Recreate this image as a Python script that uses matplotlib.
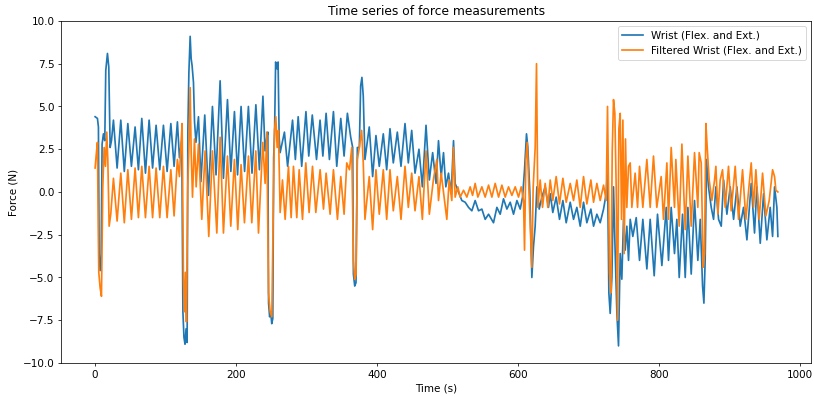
import matplotlib
matplotlib.use('Agg')
import matplotlib.pyplot as plt
import numpy as np

# wrist force (time in s, force in N)
wrist_t = [
    0.0, 3.3, 4.7, 5.7, 7.1, 8.5, 9.9, 11.8, 13.7, 15.1,
    17.5, 19.4, 21.3, 23.2, 26.0, 31.2, 36.4, 41.4, 46.4, 51.5,
    56.7, 61.4, 66.2, 71.4, 76.6, 81.5, 86.5, 91.7, 96.9, 102.1,
    107.4, 112.0, 116.7, 119.6, 122.9, 124.5, 126.0, 127.5, 129.0, 130.5,
    131.5, 133.0, 134.8, 136.2, 137.5, 139.5, 141.0, 143.0, 146.6, 150.0,
    155.5, 160.8, 166.4, 171.5, 177.3, 182.0, 187.7, 192.5, 197.6, 202.0,
    207.0, 212.0, 217.4, 222.5, 228.0, 233.0, 238.0, 241.0, 243.5, 245.0,
    246.0, 247.5, 249.0, 250.5, 252.0, 253.2, 254.5, 256.0, 258.0, 259.5,
    261.0, 262.4, 268.5, 273.0, 280.0, 284.0, 288.0, 293.0, 299.0, 303.0,
    308.0, 314.0, 319.0, 323.0, 327.6, 332.3, 338.0, 342.7, 348.4, 353.1,
    357.8, 362.5, 365.3, 366.3, 368.2, 370.0, 371.9, 374.7, 376.6, 378.4,
    380.3, 382.7, 388.8, 393.6, 398.3, 403.0, 408.7, 413.5, 418.2, 422.9,
    428.6, 433.8, 439.5, 444.2, 449.0, 453.7, 459.3, 464.1, 469.3, 474.0,
    478.7, 483.5, 487.0, 490.8, 494.1, 497.4, 501.2, 505.0, 508.3, 510.6,
    515.4, 520.1, 524.8, 529.6, 534.3, 539.0, 543.8, 548.5, 553.2, 558.0,
    565.0, 569.8, 574.5, 579.2, 584.0, 588.7, 593.4, 598.2, 602.9, 606.2,
    609.0, 611.8, 613.7, 616.5, 619.4, 621.7, 624.1, 626.5, 629.8, 633.6,
    638.3, 643.0, 645.4, 649.1, 653.9, 658.6, 663.4, 668.1, 673.8, 678.5,
    683.2, 688.0, 692.7, 697.4, 703.1, 706.9, 711.6, 716.3, 721.1, 724.8,
    726.7, 728.6, 730.5, 732.9, 735.2, 737.6, 740.0, 742.3, 744.7, 747.0,
    749.4, 751.8, 754.1, 756.5, 758.9, 762.6, 767.4, 772.1, 776.8, 782.5,
    787.2, 792.9, 797.6, 803.8, 810.0, 813.2, 817.0, 821.7, 825.0, 828.4,
    833.1, 836.9, 840.7, 845.4, 850.1, 854.8, 858.2, 861.5, 863.4, 865.2,
    867.1, 869.9, 873.8, 877.1, 880.4, 884.2, 888.0, 891.3, 896.0, 900.7,
    905.5, 910.2, 914.9, 919.6, 924.4, 930.5, 935.2, 938.5, 943.3, 948.0,
    952.7, 957.4, 960.8, 963.6, 966.9, 968.3,
]
wrist_f = [
    4.4, 4.3, 3.8, -3.6, -4.6, -3.8, 2.8, 3.4, 3.0, 7.1,
    8.1, 7.3, 2.6, 3.0, 4.2, 1.4, 4.2, 1.2, 4.0, 1.5,
    3.8, 1.3, 4.3, 1.1, 4.2, 1.4, 3.9, 1.3, 3.9, 1.2,
    4.0, 1.5, 4.1, 2.0, 3.0, -7.0, -8.5, -8.9, -8.0, -8.8,
    3.5, 7.0, 9.1, 7.8, 7.4, 6.4, 4.1, 2.9, 4.4, 0.6,
    4.5, -0.2, 5.0, 1.0, 6.5, 0.8, 5.4, 1.2, 4.7, 1.0,
    5.0, 1.2, 5.0, 1.1, 5.1, 1.3, 5.6, 2.4, 3.2, 3.5,
    -6.5, -7.3, -7.0, -7.7, -7.4, 2.0, 3.5, 7.6, 7.2, 7.6,
    3.2, 2.3, 3.5, 1.5, 4.2, 1.9, 4.4, 1.5, 4.7, 2.1,
    4.5, 1.9, 4.2, 2.1, 4.6, 1.9, 4.7, 1.5, 4.3, 2.1,
    4.6, 3.2, 2.6, -4.8, -5.5, -5.3, 2.6, 2.6, 6.2, 6.7,
    5.6, 1.9, 3.8, 0.9, 3.3, 1.5, 3.4, 1.3, 3.7, 1.7,
    3.5, 1.5, 4.0, 1.7, 3.6, 1.1, 2.5, 0.3, 3.9, 0.7,
    2.3, 0.5, 3.0, 0.9, 2.3, 0.3, 1.1, -0.1, 3.0, 0.5,
    0.0, -0.5, -0.6, -0.9, -1.1, -0.5, -1.1, -1.0, -1.6, -1.3,
    -1.8, -0.9, -1.3, -0.4, -1.0, -0.6, -1.3, -0.5, -1.0, -0.3,
    1.3, 3.4, 2.6, 0.0, -5.0, -3.2, -2.0, 0.3, -1.0, -0.3,
    0.3, -0.9, -0.1, -1.2, -0.3, -1.6, -0.5, -1.8, -0.6, -1.6,
    -0.9, -2.0, -0.6, -1.8, -1.0, -2.0, -1.3, -1.8, -1.0, -0.1,
    1.3, -5.9, -7.1, -5.0, 0.3, -3.6, -7.1, -9.0, -3.6, -5.1,
    -1.6, -3.4, -2.0, -4.0, -1.6, -2.6, -1.5, -4.0, -1.6, -4.5,
    -1.6, -4.9, -1.3, -4.3, -0.9, -4.0, -0.9, -3.6, -1.6, -5.0,
    -1.3, -5.0, -0.9, -4.8, -0.5, -4.0, -1.6, -5.5, -6.5, -4.0,
    1.9, 0.3, -0.9, -1.6, 0.3, -1.6, -2.0, 0.7, -1.3, 0.3,
    -1.6, 0.3, -2.0, -0.9, -2.8, 0.5, -2.4, 0.3, -3.0, -0.1,
    -2.8, -0.9, -2.6, 0.3, -0.9, -2.6,
]

# filtered wrist force
filt_t = [
    0.0, 1.4, 3.3, 4.3, 5.2, 7.1, 9.0, 10.9, 12.8, 14.7,
    16.5, 18.0, 19.9, 22.2, 26.0, 31.2, 36.4, 41.4, 46.4, 51.5,
    56.7, 61.4, 66.2, 71.4, 76.6, 81.5, 86.5, 91.7, 96.9, 102.1,
    107.4, 112.0, 116.7, 119.6, 121.5, 123.4, 125.3, 126.7, 128.1, 129.5,
    131.4, 133.3, 134.8, 136.2, 138.1, 140.9, 143.3, 146.6, 151.3, 156.0,
    161.2, 166.4, 172.6, 177.3, 182.0, 187.7, 192.4, 197.6, 202.3, 207.0,
    211.8, 217.5, 222.2, 227.9, 231.7, 237.8, 241.1, 243.5, 245.9, 248.2,
    250.6, 252.5, 254.4, 256.3, 258.2, 260.0, 262.4, 265.7, 269.5, 274.2,
    278.0, 281.3, 286.0, 289.4, 294.1, 298.8, 303.5, 308.3, 313.0, 319.1,
    323.9, 327.6, 333.3, 338.0, 343.7, 348.4, 353.1, 356.9, 360.7, 364.0,
    366.3, 368.2, 370.0, 371.9, 374.7, 378.0, 380.3, 382.7, 388.8, 393.6,
    398.3, 403.0, 408.7, 413.5, 418.2, 422.9, 428.6, 433.8, 439.5, 444.2,
    449.0, 453.7, 459.3, 464.1, 469.3, 474.0, 479.7, 484.6, 487.0, 490.8,
    494.1, 498.8, 502.1, 505.9, 508.3, 510.6, 514.4, 517.7, 522.5, 527.2,
    531.9, 535.3, 539.0, 542.8, 548.5, 553.2, 558.0, 562.7, 567.4, 572.2,
    576.9, 581.6, 586.3, 591.1, 595.8, 600.5, 604.3, 607.6, 609.0, 610.9,
    612.8, 614.7, 617.1, 619.4, 621.3, 624.1, 626.0, 627.9, 631.2, 634.5,
    638.3, 642.1, 645.4, 649.1, 653.9, 658.6, 663.4, 668.1, 673.8, 678.5,
    683.2, 688.0, 692.7, 697.4, 703.1, 706.9, 711.6, 716.3, 721.1, 724.8,
    726.7, 728.1, 729.6, 731.5, 733.4, 735.2, 737.1, 739.0, 740.9, 742.8,
    744.7, 746.6, 748.5, 750.3, 752.2, 754.1, 756.5, 758.9, 761.2, 765.9,
    769.3, 772.1, 776.8, 782.5, 787.2, 791.9, 796.6, 802.8, 806.1, 810.9,
    813.2, 817.0, 821.7, 823.6, 828.4, 832.2, 836.9, 840.7, 845.4, 850.1,
    854.8, 856.7, 859.6, 862.4, 864.3, 866.2, 868.1, 870.9, 874.7, 878.5,
    880.4, 883.2, 886.5, 889.8, 893.6, 898.3, 902.1, 907.8, 912.5, 918.2,
    922.9, 930.5, 933.8, 937.1, 941.8, 946.6, 951.3, 956.0, 960.8, 963.6,
    965.5, 968.3,
]
filt_f = [
    1.4, 2.1, 2.9, -1.6, -4.7, -5.6, -6.1, 0.3, 2.6, 1.5,
    3.5, 1.9, -2.0, -1.3, 0.8, -1.7, 1.1, -1.8, 1.3, -1.6,
    1.4, -1.5, 1.5, -1.5, 1.5, -1.5, 1.4, -1.5, 1.5, -1.5,
    1.3, -1.4, 1.9, 0.9, 2.6, 4.0, -5.1, -7.0, -4.7, -7.6,
    0.3, 3.0, 6.1, 2.4, -0.3, 3.1, 0.3, 2.8, -1.6, 2.4,
    -2.6, 2.4, -2.4, 3.2, -2.4, 2.1, -2.0, 1.9, -2.2, 1.6,
    -1.8, 2.1, -1.8, 2.4, -2.4, 2.9, 0.5, 3.5, -5.9, -7.0,
    -7.3, -1.6, 3.6, 4.4, 2.6, 3.6, -1.2, 0.7, -1.6, 1.5,
    -1.5, 1.5, -1.5, 1.3, -1.6, 1.7, -1.2, 1.5, -1.2, 1.3,
    -1.0, 1.1, -1.3, 1.3, -1.6, 0.9, -1.3, 1.7, 1.3, 2.6,
    -4.0, -5.1, -4.8, 1.9, 2.6, 3.6, 1.7, -1.6, 0.9, -2.2,
    1.3, -1.3, 1.3, -1.6, 1.3, -1.1, 0.9, -1.6, 1.5, -0.9,
    1.1, -1.1, 0.9, -1.6, 2.4, -1.3, 0.7, 1.9, -0.5, 1.1,
    0.0, -1.6, 0.7, -0.5, 2.6, -0.3, 0.3, -0.3, 0.1, -0.3,
    0.3, -0.2, 0.5, -0.3, 0.3, -0.3, 0.4, -0.3, 0.5, -0.3,
    0.4, -0.3, 0.3, -0.2, 0.3, -0.3, 0.3, -0.5, -3.4, 1.9,
    2.9, 0.7, -2.0, -4.4, 0.3, 2.6, 7.5, -0.9, 0.7, -0.9,
    0.5, -0.9, 0.7, -0.5, 0.9, -0.7, 0.8, -0.6, 0.5, -0.5,
    0.7, -0.9, 0.9, -0.7, 0.7, -0.6, 0.5, -0.5, 0.4, -0.5,
    5.0, 0.3, -4.7, -5.9, 2.4, 5.4, 4.6, 0.3, -7.5, 3.7,
    4.6, -1.6, 4.2, -3.6, 3.1, -0.9, 1.5, 1.7, -0.9, 1.1,
    -0.9, 1.5, -0.9, 1.9, -0.9, 2.1, -0.9, 0.9, -1.6, 1.7,
    -1.6, 2.6, -0.9, 1.9, -2.0, 2.8, -2.2, 2.1, -2.0, 2.3,
    -0.9, 2.3, 1.7, -4.4, -3.6, 4.0, 2.6, 0.7, -0.5, 0.7,
    1.5, -1.3, 0.7, 1.3, -0.9, 1.5, -1.1, 1.5, -1.6, 1.3,
    -1.6, 1.7, -0.9, 1.3, -1.6, 1.1, -1.4, -0.5, 1.3, 0.9,
    0.1, 0.0,
]

plt.rcParams['font.size'] = 11

fig = plt.figure(figsize=(12, 5.853), dpi=67.84)
ax = fig.add_axes([0.075, 0.0856, 0.9214, 0.8615])

ax.plot(wrist_t, wrist_f, lw=1.8, label='Wrist (Flex. and Ext.)')
ax.plot(filt_t, filt_f, lw=1.8, label='Filtered Wrist (Flex. and Ext.)')
ax.set_xlim(-48.3, 1015.5)
ax.set_xticks([0, 200, 400, 600, 800, 1000])
ax.set_ylim(-10, 10)
ax.set_xlabel('Time (s)')
ax.set_ylabel('Force (N)')
ax.set_title('Time series of force measurements', fontsize=13)
ax.legend(loc='upper right')

fig.savefig('out.png', dpi=67.84)
